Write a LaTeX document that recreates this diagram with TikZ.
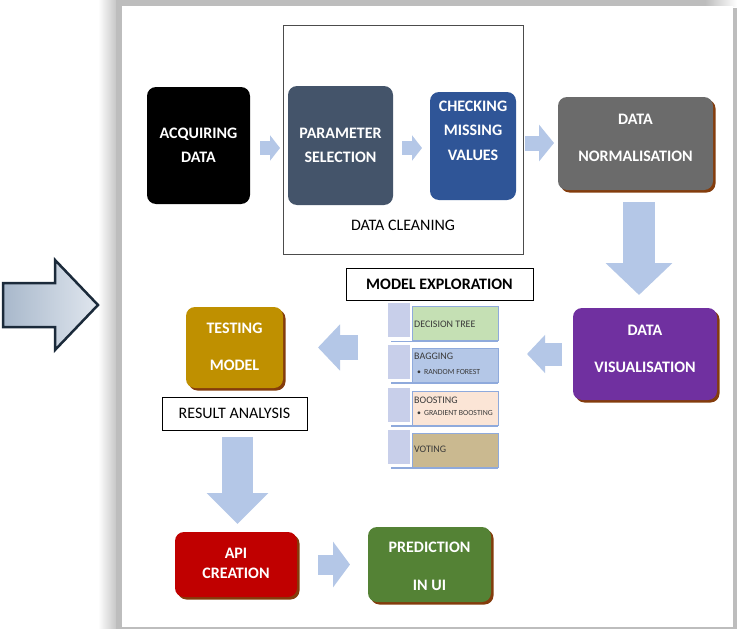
\documentclass[tikz,border=0pt]{standalone}
\usepackage{fontspec}
\setmainfont{Carlito}
\usetikzlibrary{arrows.meta,shadows,calc}
\definecolor{cacq}{HTML}{000000}
\definecolor{cparam}{HTML}{44546A}
\definecolor{ccheck}{HTML}{2F5597}
\definecolor{cnorm}{HTML}{6B6B6B}
\definecolor{cvis}{HTML}{7030A0}
\definecolor{ctest}{HTML}{BF9000}
\definecolor{capi}{HTML}{C00000}
\definecolor{cpred}{HTML}{548235}
\definecolor{shbrown}{HTML}{843C0C}
\definecolor{arrowblue}{HTML}{B4C7E7}
\definecolor{dtgreen}{HTML}{C5E0B4}
\definecolor{bagblue}{HTML}{B4C7E7}
\definecolor{boostpeach}{HTML}{FBE5D6}
\definecolor{votetan}{HTML}{CAB990}
\definecolor{sqblue}{HTML}{C8CFEA}
\definecolor{itemborder}{HTML}{8FAADC}
\definecolor{itemtext}{HTML}{3A3A3A}
\definecolor{panelgrey}{HTML}{BDBDBD}
\definecolor{bigarrowL}{HTML}{A8B8CB}
\definecolor{bigarrowR}{HTML}{E0E6EE}
\definecolor{bigarrowline}{HTML}{1B2A3A}
\newcommand\myfs[2]{\fontsize{#1}{#2}\selectfont}
\begin{document}
\begin{tikzpicture}[x=1pt,y=-1pt,
  cbox/.style={rounded corners=9pt, inner sep=0pt, outer sep=0pt},
  shbox/.style={cbox, general shadow={fill=shbrown, shadow xshift=2.5pt, shadow yshift=-2.5pt}},
  btxt/.style={font=\myfs{16}{18}\bfseries, text=white, align=center, inner sep=0pt},
  framebox/.style={draw=black, line width=0.8pt, fill=white, inner sep=0pt, outer sep=0pt},
  sqr/.style={fill=sqblue, minimum width=22pt, minimum height=34pt, inner sep=0pt, outer sep=0pt},
  itembox/.style={draw=itemborder, line width=0.8pt, minimum width=86pt, minimum height=34pt, inner sep=0pt, outer sep=0pt},
  itemtxt/.style={font=\myfs{10}{12}, text=itemtext, anchor=west, inner sep=0pt},
  subtxt/.style={font=\myfs{7.8}{9}, text=itemtext, anchor=west, inner sep=0pt},
  fat/.style={draw=arrowblue}
]
\useasboundingbox (0,0) rectangle (737,629);
% background panel with soft grey shadow
\fill[white] (0,0) rectangle (737,629);
\shade[left color=white, right color=panelgrey!85] (98,0) rectangle (116,629);
\fill[panelgrey] (116,0) rectangle (737,629);
\fill[white] (733,0) rectangle (737,8);
\shade[left color=panelgrey, right color=white] (705,0) rectangle (737,6);
\fill[white] (122,6) rectangle (733,627);

% big left arrow
\draw[bigarrowline, line width=2.5pt, line join=miter, left color=bigarrowL, right color=bigarrowR]
  (3,283) -- (55,283) -- (55,260) -- (98,305) -- (55,350) -- (55,327) -- (3,327) -- cycle;

% data cleaning frame
\node[draw=black!70, line width=0.9pt, minimum width=240pt, minimum height=229pt, inner sep=0pt] (clean) at (403,139.5) {};
\node[font=\myfs{16}{18}, text=black, inner sep=0pt] (cleantxt) at (403,225) {DATA CLEANING};

% main boxes
\node[cbox, fill=cacq, minimum width=103pt, minimum height=117pt,
  label={[btxt]center:{ACQUIRING\\[6pt]DATA}}] (acq) at (198.5,145.5) {};
\node[cbox, fill=cparam, minimum width=105pt, minimum height=119pt,
  label={[btxt]center:{PARAMETER\\[6pt]SELECTION}}] (param) at (340.5,145.5) {};
\node[cbox, fill=ccheck, minimum width=86pt, minimum height=108pt,
  label={[btxt, yshift=15.5pt]center:{CHECKING\\[6.5pt]MISSING\\[6.5pt]VALUES}}] (check) at (473,146) {};
\node[shbox, fill=cnorm, minimum width=155pt, minimum height=93pt,
  label={[btxt, yshift=6pt]center:{DATA\\[19pt]NORMALISATION}}] (norm) at (635.5,143.5) {};
\node[shbox, fill=cvis, minimum width=144pt, minimum height=92pt,
  label={[btxt, yshift=5.5pt]center:{DATA\\[19pt]VISUALISATION}}] (vis) at (645,354) {};
\node[shbox, fill=ctest, minimum width=97pt, minimum height=81pt,
  label={[btxt, yshift=1pt]center:{TESTING\\[19pt]MODEL}}] (test) at (234.5,347.5) {};
\node[framebox, minimum width=145pt, minimum height=33pt, font=\myfs{16}{18}] (result) at (234.5,413.5) {RESULT ANALYSIS};
\node[shbox, fill=capi, minimum width=122pt, minimum height=65pt,
  label={[btxt, yshift=1.5pt]center:{API\\[2pt]CREATION}}] (api) at (236,564.5) {};
\node[shbox, fill=cpred, minimum width=123pt, minimum height=75pt,
  label={[btxt, yshift=-1.5pt]center:{PREDICTION\\[20pt]IN UI}}] (pred) at (429.5,564.5) {};

% model exploration
\node[framebox, minimum width=187pt, minimum height=32pt, font=\myfs{16}{18}\bfseries] (explore) at (439.5,284) {MODEL EXPLORATION};

% stack of models
\draw[itemborder, line width=1.2pt] (391,341.5) -- (498,341.5);
\draw[itemborder, line width=1.2pt] (391,383) -- (498,383);
\draw[itemborder, line width=1.2pt] (391,426) -- (498,426);
\draw[itemborder, line width=1.2pt] (391,468) -- (498,468);
\node[sqr] (dtsq) at (399,319.5) {};
\node[itembox, fill=dtgreen] (dt) at (455,323.5) {};
\node[itemtxt] (dtt) at (414,324) {DECISION TREE};
\node[sqr] (bagsq) at (399,361.5) {};
\node[itembox, fill=bagblue] (bag) at (455,365) {};
\node[itemtxt] (bagt) at (414,356) {BAGGING};
\node[subtxt] (bags) at (417,372) {•\hspace{3pt}RANDOM FOREST};
\node[sqr] (boostsq) at (399,404.5) {};
\node[itembox, fill=boostpeach] (boost) at (455,408) {};
\node[itemtxt] (boostt) at (414,400) {BOOSTING};
\node[subtxt] (boosts) at (417,413) {•\hspace{3pt}GRADIENT BOOSTING};
\node[sqr] (votesq) at (399,446.5) {};
\node[itembox, fill=votetan] (vote) at (455,450) {};
\node[itemtxt] (votet) at (414,449) {VOTING};

% block arrows
\draw[fat, line width=14pt, -{Triangle[length=10pt,width=25pt]}, shorten <=10pt, shorten >=8pt]
  ([yshift=-2.5pt]acq.east) -- ([yshift=-2.5pt]acq.east -| param.west);
\draw[fat, line width=14pt, -{Triangle[length=10pt,width=25pt]}, shorten <=9pt, shorten >=8pt]
  ([yshift=-2.5pt]param.east) -- ([yshift=-2.5pt]param.east -| check.west);
\draw[fat, line width=15pt, -{Triangle[length=15pt,width=36pt]}, shorten <=9pt, shorten >=4pt]
  ([yshift=3pt]check.east) -- ([yshift=3pt]check.east -| norm.west);
\draw[fat, line width=32pt, -{Triangle[length=32pt,width=65pt]}, shorten <=12pt, shorten >=13pt]
  ([xshift=3.5pt]norm.south) -- ([xshift=3.5pt]norm.south |- vis.north);
\draw[fat, line width=23pt, -{Triangle[length=18pt,width=37pt]}, shorten <=11pt, shorten >=29pt]
  (vis.west) -- (vis.west -| bag.east);
\draw[fat, line width=25pt, -{Triangle[length=22pt,width=45pt]}, shorten <=30pt, shorten >=35pt]
  (test.east -| bagsq.west) -- (test.east);
\draw[fat, line width=31pt, -{Triangle[length=31pt,width=60pt]}, shorten <=7pt, shorten >=8pt]
  ([xshift=3pt]result.south) -- ([xshift=3pt]result.south |- api.north);
\draw[fat, line width=20pt, -{Triangle[length=17pt,width=45pt]}, shorten <=21pt, shorten >=18pt]
  (api.east) -- (api.east -| pred.west);
\end{tikzpicture}
\end{document}
